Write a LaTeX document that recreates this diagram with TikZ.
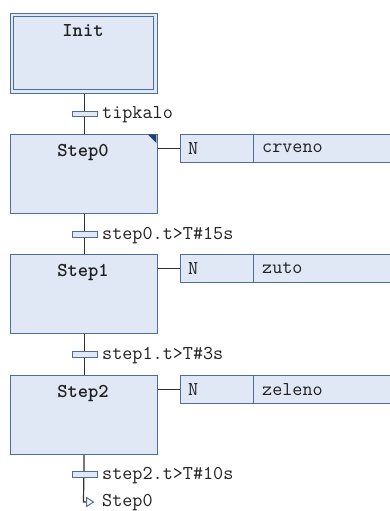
\documentclass[tikz,border=0pt]{standalone}
\usepackage{fontspec}
\definecolor{sfcfill}{HTML}{E1E8F5}
\definecolor{sfcborder}{HTML}{4E6D9C}
\definecolor{sfcmark}{HTML}{1F3F6F}
\definecolor{sfcline}{HTML}{303030}
\definecolor{sfctext}{HTML}{202020}
\begin{document}
\begin{tikzpicture}[x=1pt,y=-1pt,
  txt/.style={font=\ttfamily\fontsize{19.6}{21}\selectfont, text=sfctext, inner sep=0pt},
  stepname/.style={txt, font=\ttfamily\bfseries\fontsize{19.6}{21}\selectfont},
  stepbox/.style={draw=sfcborder, fill=sfcfill, line width=1.2pt, inner sep=0pt,
    minimum width=147pt, minimum height=79pt, anchor=north west},
  transbar/.style={draw=sfcborder, fill=sfcfill, line width=1pt, inner sep=0pt,
    minimum width=25pt, minimum height=5.5pt},
  actq/.style={draw=sfcborder, fill=sfcfill, line width=1.2pt, inner sep=0pt,
    minimum width=73pt, minimum height=28pt, anchor=north west},
  actname/.style={draw=sfcborder, fill=sfcfill, line width=1.2pt, inner sep=0pt,
    minimum width=150pt, minimum height=28pt, anchor=north west},
  wire/.style={draw=sfcline, line width=1.2pt}]
\useasboundingbox (0,0) rectangle (390,511);

% initial step (double frame)
\node[stepbox, minimum height=80pt] (init) at (10,13) {};
\draw[sfcborder, line width=1.2pt] (13.5,16.5) rectangle (153.5,89.5);
\node[stepname] (initname) at (83,31) {Init};

% steps
\node[stepbox] (s0) at (10,134) {};
\node[stepname] (s0name) at (83,153) {Step0};
\node[stepbox] (s1) at (10,254) {};
\node[stepname] (s1name) at (83,273) {Step1};
\node[stepbox] (s2) at (10,375) {};
\node[stepname] (s2name) at (83,394) {Step2};

% active marker on Step0
\fill[sfcmark] (148,134.6) -- (156.4,134.6) -- (156.4,143) -- cycle;

% main vertical wires
\coordinate (jmp) at (83.5,502);
\draw[wire] (init.south) -- (s0.north);
\draw[wire] (s0.south) -- (s1.north);
\draw[wire] (s1.south) -- (s2.north);
\draw[wire] (s2.south) -- (jmp) -- ++(3,0) coordinate (jmpend);

% transitions
\node[transbar] (t0) at (84.5,114) {};
\node[txt, anchor=west] (t0l) at (102,115) {tipkalo};
\node[transbar] (t1) at (84.5,234.5) {};
\node[txt, anchor=west] (t1l) at (102,235.5) {step0.t>T\#15s};
\node[transbar] (t2) at (84.5,354.5) {};
\node[txt, anchor=west] (t2l) at (102,355.5) {step1.t>T\#3s};
\node[transbar] (t3) at (84.5,474.5) {};
\node[txt, anchor=west] (t3l) at (102,475.5) {step2.t>T\#10s};

% jump back to Step0
\draw[sfcborder, line width=1pt] (jmpend) ++(0,-4.5) -- ++(7,4.5) -- ++(-7,4.5) -- cycle;
\node[txt, anchor=west] (jmpl) at (102,502.5) {Step0};

% action blocks
\node[actq] (q0) at (180,134) {};
\node[actname] (a0) at (253,134) {};
\node[txt, anchor=west] at (188,148.5) {N};
\node[txt, anchor=west] at (262,148.5) {crveno};
\draw[wire] (s0.east |- q0.west) -- (q0.west);

\node[actq] (q1) at (180,254) {};
\node[actname] (a1) at (253,254) {};
\node[txt, anchor=west] at (188,268.5) {N};
\node[txt, anchor=west] at (262,268.5) {zuto};
\draw[wire] (s1.east |- q1.west) -- (q1.west);

\node[actq] (q2) at (180,375) {};
\node[actname] (a2) at (253,375) {};
\node[txt, anchor=west] at (188,389.5) {N};
\node[txt, anchor=west] at (262,389.5) {zeleno};
\draw[wire] (s2.east |- q2.west) -- (q2.west);
\end{tikzpicture}
\end{document}
